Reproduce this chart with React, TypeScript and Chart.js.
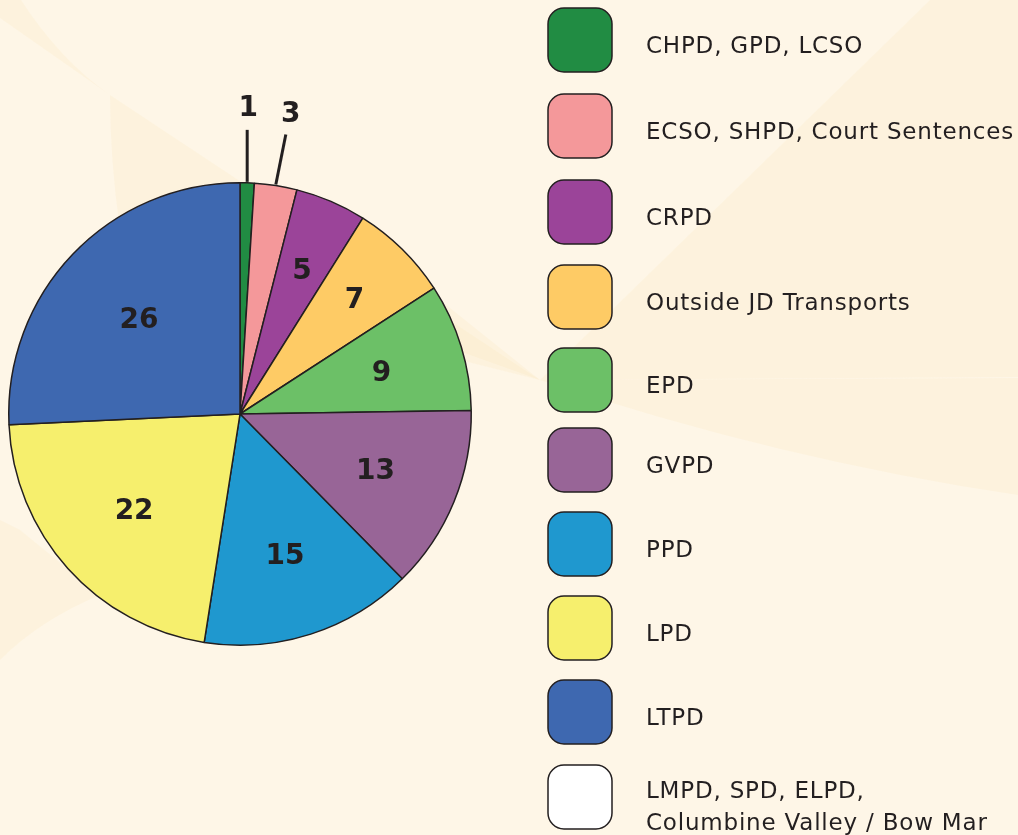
import React, { useEffect, useRef } from "react";
import { Chart, registerables } from "chart.js";

Chart.register(...registerables);

const categories = [
  "CHPD, GPD, LCSO",
  "ECSO, SHPD, Court Sentences",
  "CRPD",
  "Outside JD Transports",
  "EPD",
  "GVPD",
  "PPD",
  "LPD",
  "LTPD",
  "LMPD, SPD, ELPD,\nColumbine Valley / Bow Mar",
];
const values = [1, 3, 5, 7, 9, 13, 15, 22, 26, 0];
const colors = [
  "#218c43",
  "#f4989a",
  "#9b4499",
  "#fecb65",
  "#6cc067",
  "#986597",
  "#1f98cf",
  "#f6ef6d",
  "#3e68b0",
  "#ffffff",
];
// fraction of the radius at which each inside label sits
const labelRadius = [0, 0, 0.68, 0.705, 0.64, 0.633, 0.637, 0.615, 0.604, 0];
// labels placed outside the pie with a leader line: [lineDx, lineDy, textDx, textDy]
const outsideOffsets: Record<number, number[]> = {
  0: [0, -53, 1, -77],
  1: [10, -51, 15, -74],
};

const BG = "#fef6e7";
const RAY = "rgba(252, 232, 185, 0.2)";
const INK = "#231f20";
const NUM_FONT = "bold 28px 'DejaVu Sans', sans-serif";
const LEG_FONT = "23px 'DejaVu Sans', sans-serif";

const backgroundPlugin = {
  id: "bg",
  beforeDraw(chart: any) {
    const { ctx, width, height } = chart;
    ctx.save();
    ctx.fillStyle = BG;
    ctx.fillRect(0, 0, width, height);
    ctx.fillStyle = RAY;
    // top-left crossing rays
    ctx.beginPath();
    ctx.moveTo(0, 0);
    ctx.lineTo(21, 0);
    ctx.quadraticCurveTo(60, 60, 110, 95);
    ctx.lineTo(0, 18);
    ctx.closePath();
    ctx.fill();
    ctx.beginPath();
    ctx.moveTo(110, 95);
    ctx.lineTo(540, 380);
    ctx.lineTo(120, 230);
    ctx.quadraticCurveTo(110, 160, 110, 95);
    ctx.closePath();
    ctx.fill();
    // right-side rays from a focal point near the legend
    ctx.beginPath();
    ctx.moveTo(540, 380);
    ctx.lineTo(930, 0);
    ctx.lineTo(1018, 0);
    ctx.lineTo(1018, 377);
    ctx.closePath();
    ctx.fill();
    ctx.beginPath();
    ctx.moveTo(540, 380);
    ctx.lineTo(1018, 378);
    ctx.lineTo(1018, 495);
    ctx.quadraticCurveTo(780, 460, 540, 380);
    ctx.closePath();
    ctx.fill();
    ctx.beginPath();
    ctx.moveTo(440, 300);
    ctx.lineTo(540, 380);
    ctx.lineTo(440, 355);
    ctx.closePath();
    ctx.fill();
    // bottom-left ray
    ctx.beginPath();
    ctx.moveTo(0, 660);
    ctx.quadraticCurveTo(40, 620, 100, 595);
    ctx.lineTo(20, 530);
    ctx.lineTo(0, 520);
    ctx.closePath();
    ctx.fill();
    ctx.restore();
  },
};

const labelPlugin = {
  id: "sliceLabels",
  afterDatasetsDraw(chart: any) {
    const { ctx } = chart;
    const meta = chart.getDatasetMeta(0);
    const data = chart.data.datasets[0].data as number[];
    ctx.save();
    ctx.fillStyle = INK;
    ctx.strokeStyle = INK;
    ctx.font = NUM_FONT;
    ctx.textAlign = "center";
    ctx.textBaseline = "alphabetic";
    meta.data.forEach((arc: any, i: number) => {
      const v = data[i];
      if (!v) return;
      const { x, y, startAngle, endAngle, outerRadius } = arc.getProps(
        ["x", "y", "startAngle", "endAngle", "outerRadius"],
        true
      );
      const mid = (startAngle + endAngle) / 2;
      const off = outsideOffsets[i];
      if (off) {
        const ex = x + Math.cos(mid) * outerRadius;
        const ey = y + Math.sin(mid) * outerRadius;
        ctx.lineWidth = 3;
        ctx.beginPath();
        ctx.moveTo(ex, ey - 1);
        ctx.lineTo(ex + off[0], ey + off[1]);
        ctx.stroke();
        ctx.fillText(String(v), ex + off[2], ey + off[3] + 10);
      } else {
        const f = labelRadius[i];
        ctx.fillText(String(v), x + Math.cos(mid) * outerRadius * f, y + Math.sin(mid) * outerRadius * f + 10);
      }
    });
    ctx.restore();
  },
};

const legendPlugin = {
  id: "customLegend",
  afterDraw(chart: any) {
    const { ctx } = chart;
    const labels = chart.data.labels as string[];
    const bgs = chart.data.datasets[0].backgroundColor as string[];
    const rowY = [40, 126, 212, 297, 380, 460, 544, 628, 712, 797];
    ctx.save();
    labels.forEach((lab, i) => {
      const cy = rowY[i];
      const x0 = 548;
      const s = 64;
      ctx.beginPath();
      ctx.roundRect(x0, cy - s / 2, s, s, 16);
      ctx.fillStyle = bgs[i];
      ctx.fill();
      ctx.lineWidth = 1.5;
      ctx.strokeStyle = INK;
      ctx.stroke();
      ctx.fillStyle = INK;
      ctx.font = LEG_FONT;
      (ctx as any).letterSpacing = "0.8px";
      ctx.textAlign = "left";
      ctx.textBaseline = "alphabetic";
      const lines = lab.split("\n");
      if (lines.length === 1) {
        ctx.fillText(lines[0], 646, cy + 13);
      } else {
        lines.forEach((ln, j) => {
          ctx.fillText(ln, 646, cy + 1 + j * 32);
        });
      }
      (ctx as any).letterSpacing = "0px";
    });
    ctx.restore();
  },
};

export default function App() {
  const ref = useRef<HTMLCanvasElement | null>(null);
  useEffect(() => {
    if (!ref.current) return;
    const chart = new Chart(ref.current, {
      type: "pie",
      data: {
        labels: categories,
        datasets: [
          {
            data: values,
            backgroundColor: colors,
            borderColor: INK,
            borderWidth: 1.5,
          },
        ],
      },
      options: {
        animation: false,
        responsive: false,
        maintainAspectRatio: false,
        layout: { padding: { left: 8, top: 182, right: 546, bottom: 189 } },
        plugins: {
          legend: { display: false },
          tooltip: { enabled: false },
        },
      },
      plugins: [backgroundPlugin, labelPlugin, legendPlugin],
    });
    return () => chart.destroy();
  }, []);
  return (
    <div style={{ position: "fixed", left: 0, top: 0, width: 1018, height: 835 }}>
      <canvas ref={ref} width={1018} height={835} style={{ width: 1018, height: 835 }} />
    </div>
  );
}
